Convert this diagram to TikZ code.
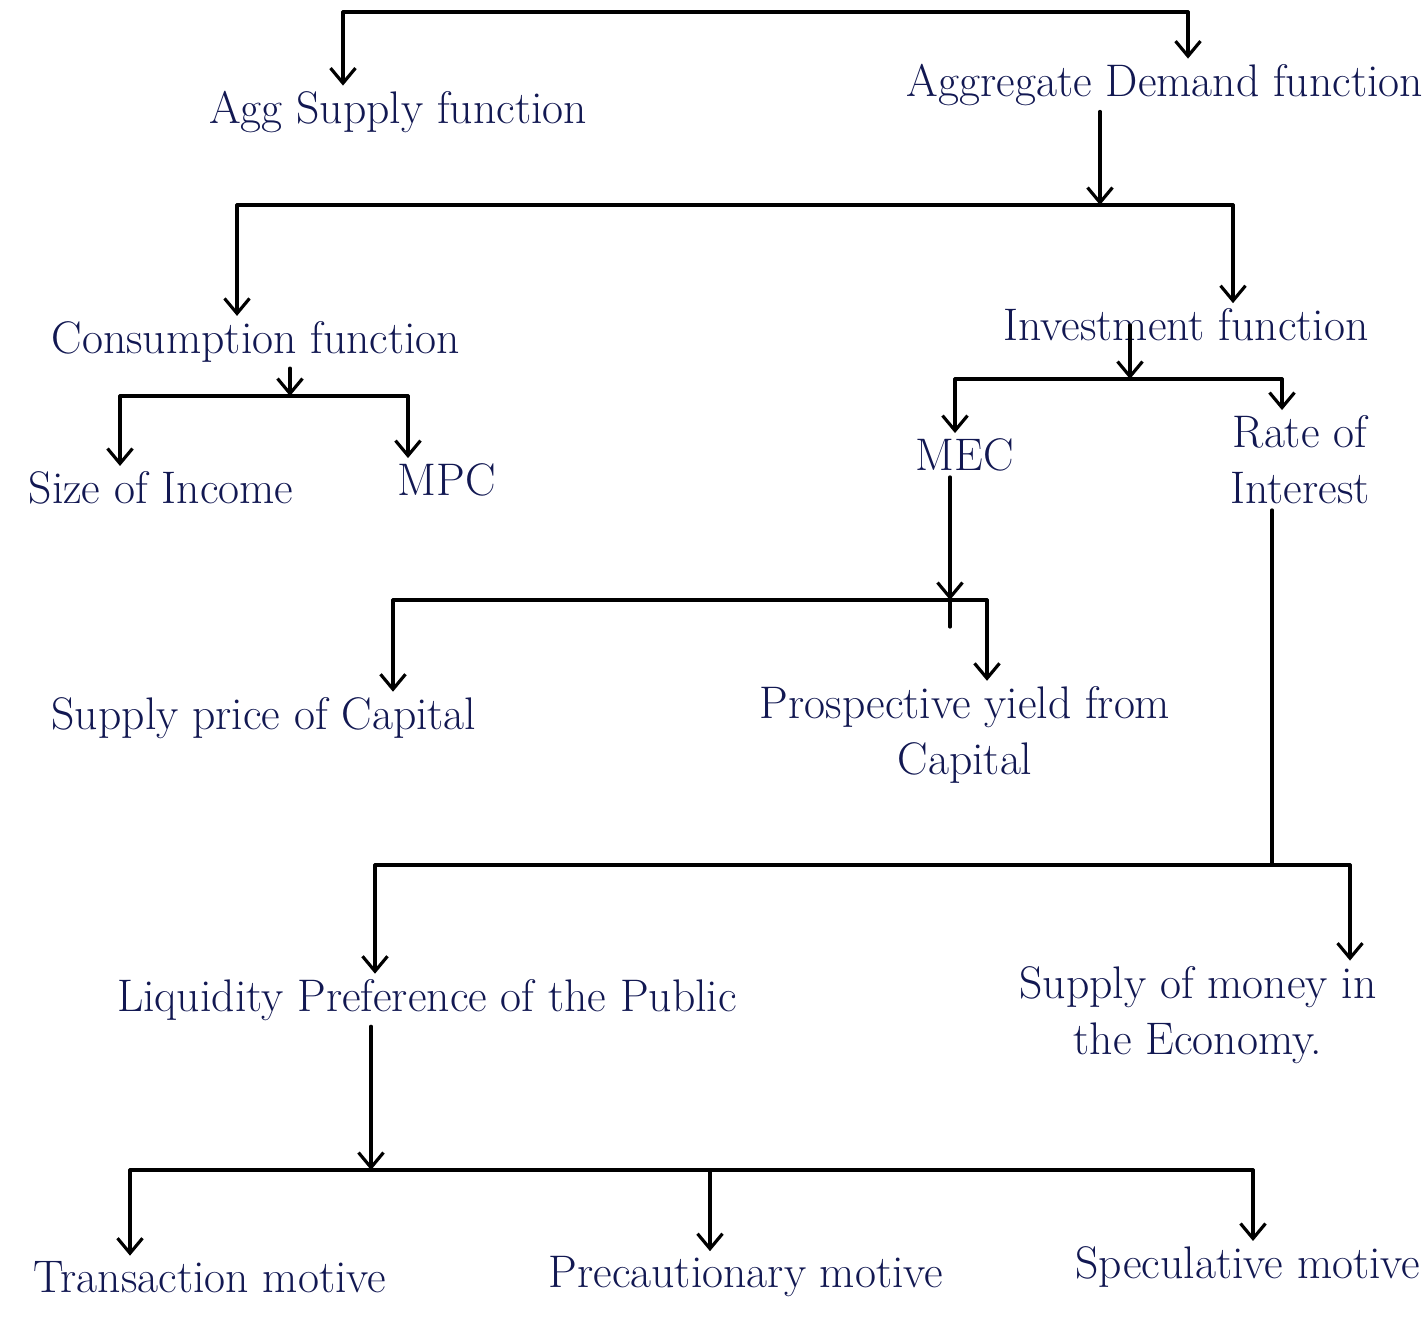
\documentclass[tikz,border=0pt]{standalone}
\usepackage{tikz}
\usepackage{xcolor}
\usetikzlibrary{arrows.meta,positioning,calc}
\definecolor{ink}{RGB}{18,24,82}

\begin{document}
\begin{tikzpicture}[x=0.02cm,y=-0.02cm,>={Straight Barb[length=3mm,width=5mm]},
lab/.style={text=ink,font=\fontsize{26}{32}\selectfont,inner sep=3pt,align=center},
ln/.style={line width=1.8pt,line cap=round,line join=round},
arr/.style={ln,->}]
\useasboundingbox (0,0) rectangle (1422,1326);
% labels
\node[lab] (agg) at (398,112) {Agg Supply function};
\node[lab] (agd) at (1165,85) {Aggregate Demand function};
\node[lab] (cons) at (256,342) {Consumption function};
\node[lab] (inv) at (1186,325) {Investment function};
\node[lab] (size) at (161,488) {Size of Income};
\node[lab] (mpc) at (447,480) {MPC};
\node[lab] (mec) at (965,455) {MEC};
\node[lab] (rate) at (1300,460) {Rate of\\Interest};
\node[lab] (spc) at (264,718) {Supply price of Capital};
\node[lab] (pyc) at (965,735) {Prospective yield from\\Capital};
\node[lab] (lpp) at (427,1000) {Liquidity Preference of the Public};
\node[lab] (smn) at (1198,1015) {Supply of money in\\the Economy.};
\node[lab] (tm) at (210,1277) {Transaction motive};
\node[lab] (pm) at (746,1277) {Precautionary motive};
\node[lab] (sm) at (1248,1267) {Speculative motive};
% bars
\coordinate (b1l) at (343,12);  \coordinate (b1r) at (1188,12);
\coordinate (b2l) at (237,205); \coordinate (b2m) at (1100,205); \coordinate (b2r) at (1233,205);
\coordinate (b3l) at (120,396); \coordinate (b3m) at (290,396); \coordinate (b3r) at (408,396);
\coordinate (b4l) at (955,379); \coordinate (b4m) at (1130,379); \coordinate (b4r) at (1282,379);
\coordinate (b5l) at (393,600); \coordinate (b5m) at (950,600); \coordinate (b5r) at (987,600);
\coordinate (b6l) at (375,865); \coordinate (b6m) at (1272,865); \coordinate (b6r) at (1350,865);
\coordinate (b7l) at (130,1170); \coordinate (b7m) at (371,1170); \coordinate (b7c) at (710,1170);
\coordinate (b7r) at (1253,1170);
\foreach \a/\b in {b1l/b1r,b2l/b2r,b3l/b3r,b4l/b4r,b5l/b5r,b6l/b6r,b7l/b7r}
  \draw[ln] (\a)--(\b);
% down to the children
\draw[arr] (b1l)--(b1l |- agg.north);
\draw[arr] (b1r)--(b1r |- agd.north);
\draw[arr] (b2l)--(b2l |- cons.north);
\draw[arr] (b2r)--(b2r |- inv.north);
\draw[arr] (b3l)--(b3l |- size.north);
\draw[arr] (b3r)--(b3r |- mpc.north);
\draw[arr] (b4l)--(b4l |- mec.north);
\draw[arr] (b4r)--(b4r |- rate.north);
\draw[arr] (b5l)--(b5l |- spc.north);
\draw[arr] (b5r)--(b5r |- pyc.north);
\draw[arr] (b6l)--(b6l |- lpp.north);
\draw[arr] (b6r)--(b6r |- smn.north);
\draw[arr] (b7l)--(b7l |- tm.north);
\draw[arr] (b7c)--(b7c |- pm.north);
\draw[arr] (b7r)--(b7r |- sm.north);
% up from the parents
\draw[arr] (agd.south -| b2m)--(b2m);
\draw[arr] (cons.south -| b3m)--(b3m);
\draw[arr] (inv.center -| b4m)--(b4m);
\draw[arr] (mec.south -| b5m)--(b5m);
\draw[ln] (b5m)--++(0,27);
\draw[ln] (rate.south -| b6m)--(b6m);
\draw[arr] (lpp.south -| b7m)--(b7m);
\end{tikzpicture}
\end{document}
